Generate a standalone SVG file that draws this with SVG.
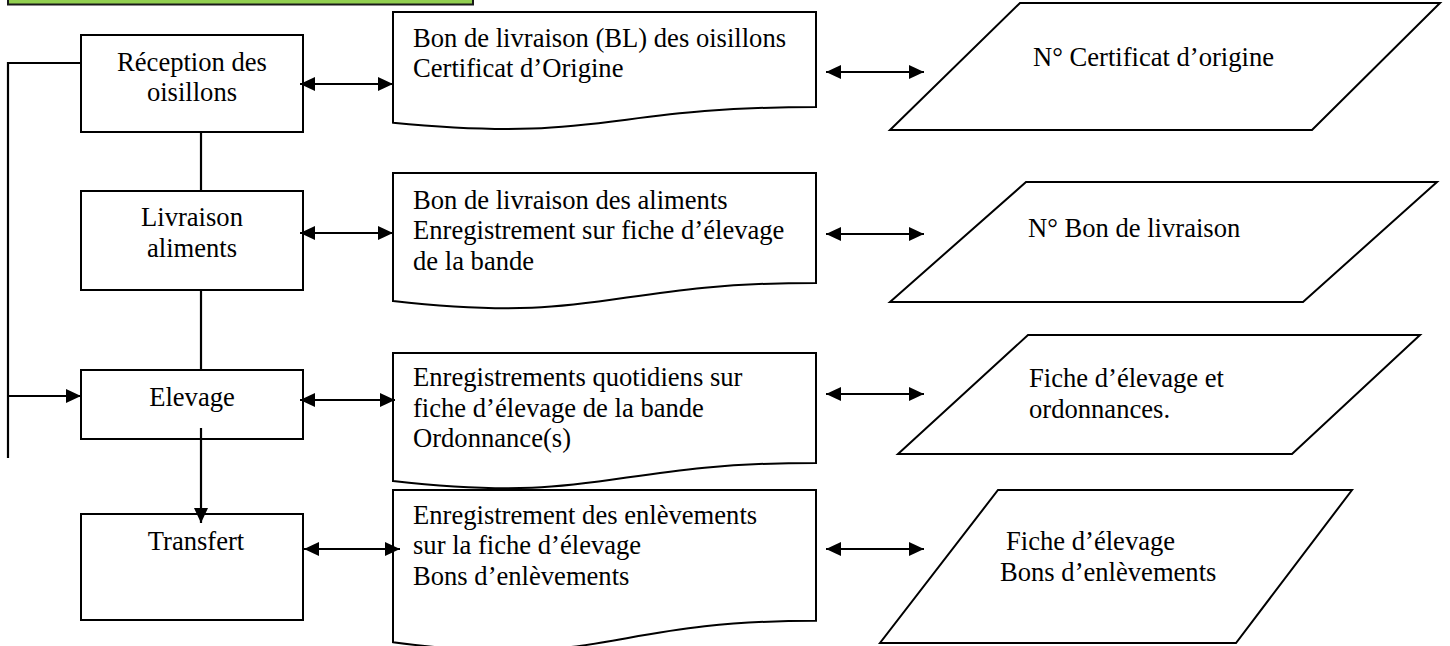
<svg xmlns="http://www.w3.org/2000/svg" width="1450" height="646" viewBox="0 0 1450 646">
<style>
.box{fill:#fff;stroke:#000;stroke-width:2}
.t{font-family:"Liberation Serif","Times New Roman",serif;font-size:26.6px;fill:#000}
.c{text-anchor:middle}
.ln{fill:none;stroke:#000;stroke-width:2.2}
.a{marker-end:url(#ah)}
.aa{marker-start:url(#ah);marker-end:url(#ah)}
</style>
<defs>
<marker id="ah" viewBox="0 0 10 10" refX="10" refY="5" markerWidth="15" markerHeight="14" preserveAspectRatio="none" markerUnits="userSpaceOnUse" orient="auto-start-reverse">
<path d="M0,0 L10,5 L0,10 z" fill="#000"/>
</marker>
</defs>
<rect x="8" y="-10" width="465" height="14.5" fill="#92d050" stroke="#1a1a1a" stroke-width="2"/>

<g id="reception">
<rect class="box" x="81" y="35" width="222" height="97"/>
<text class="t c" x="192" y="71">Réception des</text>
<text class="t c" x="192" y="101">oisillons</text>
</g>
<g id="livraison">
<rect class="box" x="81" y="191" width="222" height="99"/>
<text class="t c" x="192" y="226">Livraison</text>
<text class="t c" x="192" y="257">aliments</text>
</g>
<g id="elevage">
<rect class="box" x="81" y="370" width="222" height="69"/>
<text class="t c" x="192" y="406">Elevage</text>
</g>
<g id="transfert">
<rect class="box" x="81" y="514" width="222" height="106"/>
<text class="t c" x="196" y="550">Transfert</text>
</g>

<g id="doc1">
<path class="box" d="M393,12 H816 V107 C604.5,107 604.5,143.2 393,122.7 Z"/>
<text class="t" x="413" y="47">Bon de livraison (BL) des oisillons</text>
<text class="t" x="413" y="77">Certificat d’Origine</text>
</g>
<g id="doc2">
<path class="box" d="M393,173 H816 V282.9 C604.5,282.9 604.5,324.7 393,301 Z"/>
<text class="t" x="413" y="208.5">Bon de livraison des aliments</text>
<text class="t" x="413" y="239">Enregistrement sur fiche d’élevage</text>
<text class="t" x="413" y="270">de la bande</text>
</g>
<g id="doc3">
<path class="box" d="M393,353 H816 V462.9 C604.5,462.9 604.5,504.7 393,481 Z"/>
<text class="t" x="413" y="386">Enregistrements quotidiens sur</text>
<text class="t" x="413" y="417">fiche d’élevage de la bande</text>
<text class="t" x="413" y="447">Ordonnance(s)</text>
</g>
<g id="doc4">
<path class="box" d="M393,490 H816 V620.7 C604.5,620.7 604.5,670.5 393,642.2 Z"/>
<text class="t" x="413" y="524">Enregistrement des enlèvements</text>
<text class="t" x="413" y="554">sur la fiche d’élevage</text>
<text class="t" x="413" y="585">Bons d’enlèvements</text>
</g>

<g id="data1">
<polygon class="box" points="1020,3 1440,3 1312,130 890,130"/>
<text class="t" x="1033" y="66">N° Certificat d’origine</text>
</g>
<g id="data2">
<polygon class="box" points="1026,182 1437,182 1303,302 890,302"/>
<text class="t" x="1028" y="237">N° Bon de livraison</text>
</g>
<g id="data3">
<polygon class="box" points="1028,335 1420,335 1292,454 898,454"/>
<text class="t" x="1029" y="387">Fiche d’élevage et</text>
<text class="t" x="1029" y="418">ordonnances.</text>
</g>
<g id="data4">
<polygon class="box" points="998,490 1352,490 1236,643 880,643"/>
<text class="t" x="1006" y="550">Fiche d’élevage</text>
<text class="t" x="1000" y="581">Bons d’enlèvements</text>
</g>

<g id="connectors">
<polyline class="ln" points="81,63 8,63 8,458"/>
<line class="ln a" x1="8" y1="396" x2="81" y2="396"/>
<line class="ln" x1="201" y1="132" x2="201" y2="191"/>
<line class="ln" x1="201" y1="290" x2="201" y2="370"/>
<line class="ln a" x1="201" y1="428" x2="201" y2="523"/>
<line class="ln aa" x1="300" y1="84" x2="393" y2="84"/>
<line class="ln aa" x1="300" y1="233" x2="393" y2="233"/>
<line class="ln aa" x1="300" y1="400" x2="395" y2="400"/>
<line class="ln aa" x1="304" y1="549" x2="400" y2="549"/>
<line class="ln aa" x1="826" y1="72" x2="924" y2="72"/>
<line class="ln aa" x1="826" y1="234" x2="924" y2="234"/>
<line class="ln aa" x1="826" y1="394" x2="924" y2="394"/>
<line class="ln aa" x1="826" y1="549" x2="924" y2="549"/>
</g>
</svg>
